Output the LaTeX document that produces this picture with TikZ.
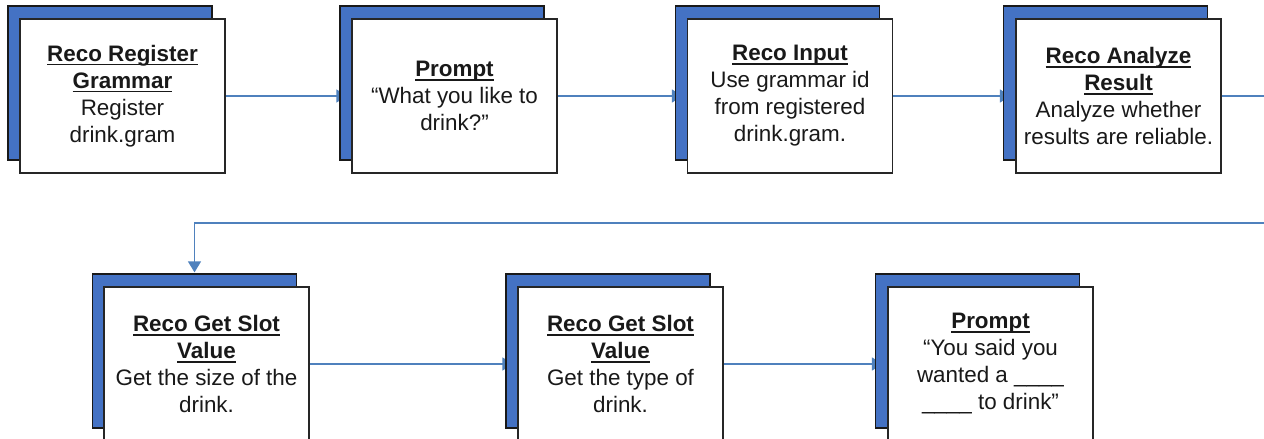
\documentclass[tikz,border=0pt]{standalone}
\usepackage{fontspec}
\setmainfont{Liberation Sans}
\usetikzlibrary{arrows.meta}
\pgfdeclarelayer{background}
\pgfsetlayers{background,main}
\definecolor{boxblue}{RGB}{68,114,196}
\definecolor{linkblue}{RGB}{79,129,189}
\newcommand{\uln}[1]{\leavevmode\setbox0\hbox{\bfseries #1}\rlap{\rule[-4.2pt]{\wd0}{1.7pt}}\box0}
\tikzset{
  backbox/.style={draw=black!90, line width=1.3pt, fill=boxblue, minimum width=204pt, minimum height=154pt, inner sep=0pt},
  frontbox/.style={draw=black!85, line width=1.5pt, fill=white, minimum width=205pt, minimum height=154pt, inner sep=0pt, align=center, font=\fontsize{22.4}{27}\selectfont, text=black!90},
  link/.style={draw=linkblue, line width=1.4pt, -{Triangle[length=11pt,width=13pt]}}
}
\begin{document}
\begin{tikzpicture}[x=1pt,y=-1pt]
\useasboundingbox (0,0) rectangle (1264,439);
\clip (0,0) rectangle (1264,439);
% top row
\node[backbox] (b1) at (110,83) {};
\node[frontbox] (f1) at (122.5,96) {\uln{Reco Register}\\\uln{Grammar}\\Register\\drink.gram};
\node[backbox] (b2) at (442,83) {};
\node[frontbox] (f2) at (454.5,96) {\uln{Prompt}\\“What you like to\\drink?”};
\node[backbox] (b3) at (777.5,83) {};
\node[frontbox] (f3) at (790,96) {\uln{Reco Input}\\Use grammar id\\from registered\\drink.gram.};
\node[backbox] (b4) at (1105.5,83) {};
\node[frontbox] (f4) at (1118.5,96) {\uln{Reco Analyze}\\\uln{Result}\\Analyze whether\\results are reliable.};
% bottom row
\node[backbox] (b5) at (194.5,351) {};
\node[frontbox] (f5) at (206.5,364) {\uln{Reco Get Slot}\\\uln{Value}\\Get the size of the\\drink.};
\node[backbox] (b6) at (608,351) {};
\node[frontbox] (f6) at (620.5,364) {\uln{Reco Get Slot}\\\uln{Value}\\Get the type of\\drink.};
\node[backbox] (b7) at (977.5,351) {};
\node[frontbox] (f7) at (990.5,364) {\uln{Prompt}\\“You said you\\wanted a \_\_\_\_\\\_\_\_\_ to drink”};
\coordinate (r) at (1285,223);
\begin{pgfonlayer}{background}
\draw[link] (f1.east) -- ([xshift=8pt]f1.east -| b2.west);
\draw[link] (f2.east) -- ([xshift=8pt]f2.east -| b3.west);
\draw[link] (f3.east) -- ([xshift=8pt]f3.east -| b4.west);
\draw[link] (f5.east) -- ([xshift=8pt]f5.east -| b6.west);
\draw[link] (f6.east) -- ([xshift=8pt]f6.east -| b7.west);
\end{pgfonlayer}
\draw[link, shorten >=1pt] (f4.east) -| (r) -- (r -| b5.north) -- (b5.north);
\end{tikzpicture}
\end{document}
